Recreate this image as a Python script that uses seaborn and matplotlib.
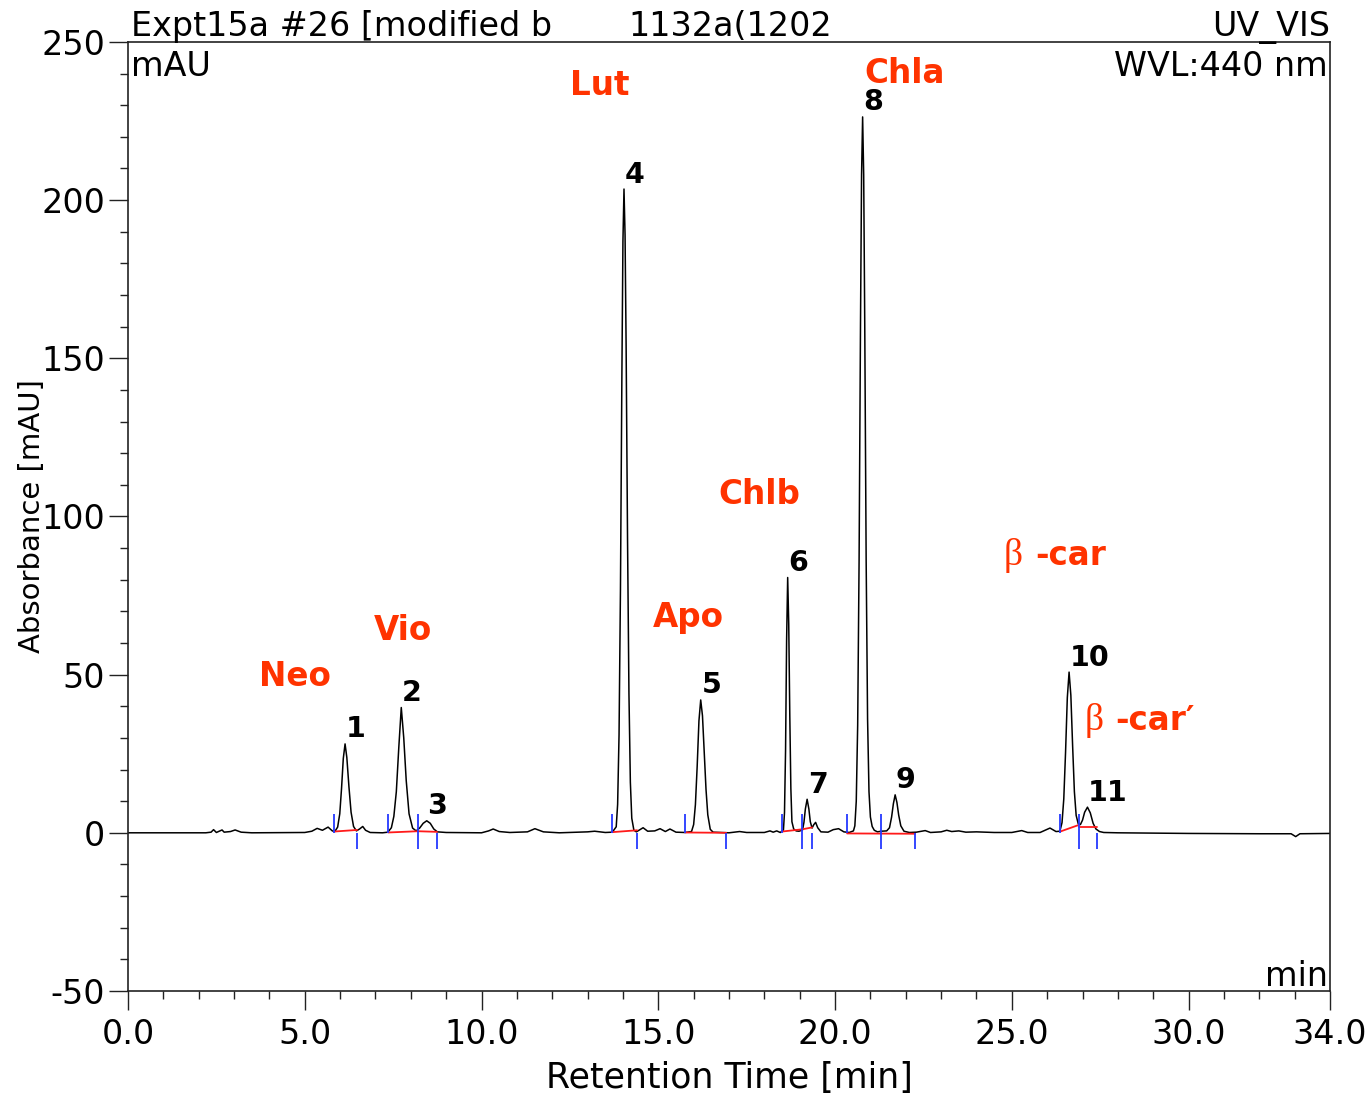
import numpy as np
import pandas as pd
import matplotlib
matplotlib.use("Agg")
import matplotlib.pyplot as plt
from matplotlib.ticker import MultipleLocator, FixedLocator, FormatStrFormatter
import seaborn as sns

#%%
# - Chromatogram trace (time in min, absorbance in mAU)
"---------------------------------------------------------------------------"

trace_time = [
    0.0, 2.2, 2.35, 2.42, 2.5, 2.6, 2.66, 2.72, 2.9, 3.03, 3.2, 3.5, 5.0, 5.2, 5.35, 5.5, 5.66, 5.78,
    5.85, 5.93, 5.99, 6.04, 6.09, 6.14, 6.19, 6.25, 6.31, 6.38, 6.46, 6.55, 6.64, 6.72, 6.85, 7.2,
    7.35, 7.45, 7.52, 7.59, 7.66, 7.73, 7.80, 7.87, 7.95, 8.05, 8.15,
    8.25, 8.35, 8.45, 8.55, 8.65, 8.75, 9.0,
    10.0, 10.2, 10.33, 10.5, 10.8, 11.3, 11.51, 11.75, 12.2, 13.0, 13.2, 13.5,
    13.70, 13.81, 13.85, 13.89, 13.93, 13.97, 14.00, 14.03, 14.06, 14.09, 14.13, 14.17, 14.21, 14.25, 14.31, 14.38,
    14.48, 14.57, 14.7, 14.9, 15.05, 15.2, 15.33, 15.5, 15.75,
    15.94, 16.00, 16.05, 16.10, 16.15, 16.20, 16.25, 16.30, 16.35, 16.40, 16.47, 16.55,
    17.0, 17.3, 17.5, 18.0, 18.16, 18.25, 18.35, 18.45,
    18.54, 18.57, 18.60, 18.63, 18.66, 18.69, 18.72, 18.75, 18.78, 18.83, 18.9, 18.98,
    19.08, 19.12, 19.16, 19.21, 19.26, 19.30, 19.35, 19.40, 19.45, 19.51, 19.6, 19.8, 19.95, 20.1, 20.25, 20.4,
    20.52, 20.56, 20.60, 20.64, 20.68, 20.72, 20.75, 20.78, 20.81, 20.84, 20.88, 20.92, 20.96, 21.00, 21.05, 21.11, 21.2, 21.3,
    21.46, 21.54, 21.60, 21.65, 21.70, 21.75, 21.80, 21.86, 21.95, 22.1, 22.3, 22.55, 22.7, 23.0, 23.16, 23.3,
    23.5, 23.7, 24.0, 24.5, 25.0, 25.28, 25.45, 25.8, 26.08, 26.25,
    26.36, 26.42, 26.47, 26.52, 26.57, 26.62, 26.67, 26.72, 26.77, 26.82, 26.88, 26.94, 27.0, 27.06, 27.14, 27.22,
    27.30, 27.38, 27.48, 27.6,
    28.0, 30.0, 32.0, 32.9, 33.03, 33.15, 34.0]

trace_mau = [
    0.0, 0.0, 0.2, 1.0, 0.1, 0.6, 0.9, 0.2, 0.4, 0.9, 0.2, 0.0, 0.1, 0.5, 1.4, 0.8, 1.8, 0.6,
    0.4, 1.8, 6.0, 14.0, 23.5, 28.1, 23.8, 14.5, 6.5, 2.0, 0.6, 1.2, 2.0, 0.8, 0.1, 0.0,
    0.2, 1.6, 5.2, 13.0, 27.0, 39.6, 30.0, 16.5, 6.0, 1.5, 0.6,
    1.5, 3.0, 3.8, 3.0, 1.2, 0.3, 0.1,
    0.0, 0.6, 1.2, 0.4, 0.1, 0.3, 1.3, 0.3, 0.0, 0.3, 0.5, 0.1,
    0.2, 1.9, 9.0, 31.0, 77.0, 144.0, 187.0, 203.5, 189.0, 154.0, 93.0, 44.0, 16.0, 4.6, 0.8, 0.3,
    1.0, 1.6, 0.5, 0.6, 1.3, 0.4, 1.2, 0.2, 0.1,
    0.4, 2.6, 8.9, 21.0, 35.4, 42.0, 37.0, 25.5, 13.7, 5.7, 1.1, 0.2,
    0.0, 0.4, 0.1, 0.1, 0.6, 0.2, 0.6, 0.1,
    0.9, 6.4, 26.0, 61.0, 80.7, 66.0, 37.0, 14.0, 3.5, 1.2, 0.6, 0.5,
    0.9, 3.3, 7.5, 10.6, 7.5, 3.5, 1.5, 2.6, 3.3, 1.6, 0.3, 0.2, 1.0, 1.3, 0.3, 0.1,
    0.6, 2.2, 10.0, 34.0, 86.0, 161.0, 208.0, 226.3, 208.0, 161.0, 86.0, 36.0, 13.0, 5.0, 2.0, 0.8, 0.3, 0.5,
    0.6, 1.6, 5.0, 9.2, 12.0, 9.6, 5.6, 2.2, 0.5, 0.1, 0.2, 0.7, 0.1, 0.3, 0.8, 0.4,
    0.6, 0.2, 0.3, 0.1, 0.1, 0.7, 0.1, 0.1, 1.5, 0.4,
    0.5, 3.2, 10.7, 25.4, 42.7, 50.8, 43.5, 27.5, 13.0, 5.5, 2.8, 2.6, 4.0, 6.5, 8.1, 6.3,
    3.0, 1.2, 0.4, 0.1,
    0.0, -0.2, -0.3, -0.3, -1.2, -0.3, -0.2]

# Peak apexes (numbered 1..11)
peak_rt = [6.14, 7.73, 8.45, 14.03, 16.20, 18.66, 19.21, 20.78, 21.70, 26.62, 27.14]
peak_height = [28.1, 39.6, 3.8, 203.5, 42.0, 80.7, 10.6, 226.3, 12.0, 50.8, 8.1]
peak_label = ["1", "2", "3", "4", "5", "6", "7", "8", "9", "10", "11"]

# Integration baselines (red)
base_t0 = [5.83, 7.36, 8.20, 13.69, 15.76, 18.50, 19.07, 20.34, 26.37, 26.90]
base_y0 = [0.4, 0.1, 0.5, 0.2, 0.1, 0.4, 1.1, -0.2, 0.4, 1.8]
base_t1 = [6.48, 8.20, 8.74, 14.40, 16.92, 19.07, 19.35, 22.26, 26.90, 27.41]
base_y1 = [0.9, 0.5, 0.3, 0.8, 0.0, 1.1, 1.7, -0.3, 2.5, 1.8]

# Peak start / end markers (blue)
mark_t = [5.83, 6.48, 7.36, 8.20, 8.74, 13.69, 14.40, 15.76, 16.92,
          18.50, 19.07, 19.35, 20.34, 21.30, 22.26, 26.37, 26.90, 27.41]
mark_kind = ["up", "down", "up", "both", "down", "up", "down", "up", "down",
             "up", "both", "down", "up", "both", "down", "up", "both", "down"]

# Compound names
compounds = ["Neo", "Vio", "Lut", "Apo", "Chlb", "Chla", "-car", "-car\u2032"]

#%%
# - Layout of text (data coordinates of the compound names)
"---------------------------------------------------------------------------"

name_pos = {"Neo": (4.72, 46.5), "Vio": (7.78, 61.0), "Lut": (13.35, 233.2),
            "Apo": (15.84, 65.1), "Chlb": (17.85, 104.0), "Chla": (21.98, 237.0),
            "-car": (25.66, 84.7), "-car\u2032": (27.92, 32.6)}
beta_pos = [(25.04, 84.7), (27.34, 32.6)]

mark_span = {"up": (0.0, 6.0), "down": (-5.0, 0.0), "both": (-5.0, 6.0)}

name_color = "#FF3300"

#%%
# - Plot
"---------------------------------------------------------------------------"

sns.set_theme(style="white")
plt.rcParams['font.family'] = ['DejaVu Sans']
plt.rcParams['text.color'] = 'black'
plt.rcParams['axes.labelcolor'] = 'black'
plt.rcParams['xtick.color'] = 'black'
plt.rcParams['ytick.color'] = 'black'

fig = plt.figure(figsize=(13.69, 10.95), dpi=100)
ax = fig.add_axes([0.0935, 0.0950, 0.8780, 0.8667])

trace_df = pd.DataFrame({"time": trace_time, "mau": trace_mau})
sns.lineplot(data=trace_df, x="time", y="mau", ax=ax, color="black",
             linewidth=1.1, estimator=None, sort=False, zorder=2)

# integration baselines
for t0, y0, t1, y1 in zip(base_t0, base_y0, base_t1, base_y1):
    ax.plot([t0, t1], [y0, y1], color="#FF1A1A", lw=1.3, zorder=3)

# peak delimiters
for t, k in zip(mark_t, mark_kind):
    lo, hi = mark_span[k]
    ax.vlines(t, lo, hi, color="#2438FF", lw=1.3, zorder=4)

# peak numbers
for rt, h, lab in zip(peak_rt, peak_height, peak_label):
    ax.annotate(lab, xy=(rt, h), xytext=(0.5, 4.7), textcoords="offset points",
                ha="left", va="baseline", fontsize=20.5, fontweight="bold", color="black")

# compound names
for name in compounds:
    x, y = name_pos[name]
    ha = "left" if name.startswith("-") else "center"
    ax.text(x, y, name, ha=ha, va="baseline", fontsize=23.5, fontweight="bold",
            color=name_color)
for x, y in beta_pos:
    ax.text(x, y, "\u03b2", ha="center", va="baseline", fontsize=27,
            family=["Liberation Serif", "DejaVu Serif"], color=name_color)

# header / corner texts
ax.text(0.0025, 1.0063, "Expt15a #26 [modified b", transform=ax.transAxes,
        ha="left", va="baseline", fontsize=24)
ax.text(0.416, 1.0063, "1132a(1202", transform=ax.transAxes,
        ha="left", va="baseline", fontsize=24)
ax.text(1.0, 1.0063, "UV_VIS", transform=ax.transAxes,
        ha="right", va="baseline", fontsize=24)
ax.text(0.0025, 0.964, "mAU", transform=ax.transAxes,
        ha="left", va="baseline", fontsize=24)
ax.text(0.998, 0.964, "WVL:440 nm", transform=ax.transAxes,
        ha="right", va="baseline", fontsize=24)
ax.text(0.998, 0.0053, "min", transform=ax.transAxes,
        ha="right", va="baseline", fontsize=24)

# axes
ax.set_xlim(0, 34)
ax.set_ylim(-50, 250)
ax.xaxis.set_major_locator(FixedLocator([0, 5, 10, 15, 20, 25, 30, 34]))
ax.xaxis.set_minor_locator(MultipleLocator(1))
ax.xaxis.set_major_formatter(FormatStrFormatter("%.1f"))
ax.yaxis.set_major_locator(MultipleLocator(50))
ax.yaxis.set_minor_locator(MultipleLocator(10))
ax.yaxis.set_major_formatter(FormatStrFormatter("%d"))

ax.tick_params(axis="both", which="both", bottom=True, left=True, top=False, right=False)
ax.tick_params(axis="both", which="major", direction="out", length=13.5, width=1.0,
               color="#222222", labelsize=24, labelcolor="black")
ax.tick_params(axis="both", which="minor", direction="out", length=6, width=1.0,
               color="#222222")
ax.tick_params(axis="x", which="major", pad=6)
ax.tick_params(axis="y", which="major", pad=3)

for side in ["left", "right", "top", "bottom"]:
    ax.spines[side].set_visible(True)
    ax.spines[side].set_color("#222222")
    ax.spines[side].set_linewidth(1.2)

ax.set_xlabel("Retention Time [min]", fontsize=25, color="black")
ax.set_ylabel("Absorbance [mAU]", fontsize=21, color="black")
ax.xaxis.set_label_coords(0.5, -0.0738)
ax.yaxis.set_label_coords(-0.0682, 0.5)
ax.grid(False)

fig.savefig("out.png", dpi=100, facecolor="white")
